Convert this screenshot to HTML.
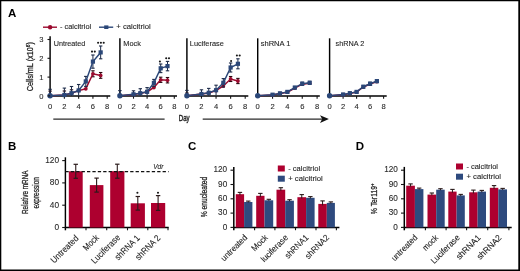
<!DOCTYPE html>
<html><head><meta charset="utf-8"><style>
html,body{margin:0;padding:0;background:#fff;}
svg{display:block;font-family:"Liberation Sans", sans-serif;will-change:transform;}
</style></head><body>
<svg width="520" height="271" viewBox="0 0 520 271">
<rect width="520" height="271" fill="#fff"/>
<path d="M0 0H520V271H0Z M1.3 1.3V269.5H518.3V1.3Z" fill="#000" fill-rule="evenodd"/>
<text x="8" y="17" font-size="11.5" font-weight="bold" fill="#000" >A</text>
<line x1="43" y1="27.2" x2="57" y2="27.2" stroke="#9b0a2e" stroke-width="1.4" />
<circle cx="50.1" cy="27.2" r="2.2" fill="#9b0a2e"/>
<text x="60.0" y="29.3" font-size="7.4" fill="#1e1e1e" stroke="#1e1e1e" stroke-width="0.1" textLength="31.2" lengthAdjust="spacingAndGlyphs" >- calcitriol</text>
<line x1="99" y1="27.2" x2="113.2" y2="27.2" stroke="#2b4778" stroke-width="1.4" />
<rect x="104.2" y="25.4" width="4.2" height="3.6" fill="#2b4778"/>
<text x="116.3" y="29.3" font-size="7.4" fill="#1e1e1e" stroke="#1e1e1e" stroke-width="0.1" textLength="34.4" lengthAdjust="spacingAndGlyphs" >+ calcitriol</text>
<line x1="50.1" y1="36.2" x2="50.1" y2="96.5" stroke="#000" stroke-width="1.45" />
<line x1="49.5" y1="95.9" x2="110.3" y2="95.9" stroke="#000" stroke-width="1.45" />
<line x1="64.375" y1="95.9" x2="64.375" y2="98.7" stroke="#141414" stroke-width="1.1" />
<text x="64.38" y="108.8" font-size="7.6" text-anchor="middle" fill="#2a2a2a" stroke="#2a2a2a" stroke-width="0.1" >2</text>
<line x1="78.65" y1="95.9" x2="78.65" y2="98.7" stroke="#141414" stroke-width="1.1" />
<text x="78.65" y="108.8" font-size="7.6" text-anchor="middle" fill="#2a2a2a" stroke="#2a2a2a" stroke-width="0.1" >4</text>
<line x1="92.92500000000001" y1="95.9" x2="92.92500000000001" y2="98.7" stroke="#141414" stroke-width="1.1" />
<text x="92.93" y="108.8" font-size="7.6" text-anchor="middle" fill="#2a2a2a" stroke="#2a2a2a" stroke-width="0.1" >6</text>
<line x1="107.2" y1="95.9" x2="107.2" y2="98.7" stroke="#141414" stroke-width="1.1" />
<text x="107.2" y="108.8" font-size="7.6" text-anchor="middle" fill="#2a2a2a" stroke="#2a2a2a" stroke-width="0.1" >8</text>
<text x="50.1" y="108.8" font-size="7.6" text-anchor="middle" fill="#2a2a2a" stroke="#2a2a2a" stroke-width="0.1" >0</text>
<text x="53.7" y="46.2" font-size="7.4" fill="#1e1e1e" stroke="#1e1e1e" stroke-width="0.1" textLength="31.7" lengthAdjust="spacingAndGlyphs" >Untreated</text>
<line x1="50.1" y1="91.1" x2="50.1" y2="95.9" stroke="#2a0810" stroke-width="1.0" />
<line x1="48.4" y1="91.1" x2="51.800000000000004" y2="91.1" stroke="#2a0810" stroke-width="1.1" />
<line x1="64.375" y1="91.0" x2="64.375" y2="95.9" stroke="#2a0810" stroke-width="1.0" />
<line x1="62.675" y1="91.0" x2="66.075" y2="91.0" stroke="#2a0810" stroke-width="1.1" />
<line x1="71.5125" y1="89.8" x2="71.5125" y2="95.9" stroke="#2a0810" stroke-width="1.0" />
<line x1="69.8125" y1="89.8" x2="73.2125" y2="89.8" stroke="#2a0810" stroke-width="1.1" />
<line x1="92.92500000000001" y1="70.8" x2="92.92500000000001" y2="76.8" stroke="#2a0810" stroke-width="1.0" />
<line x1="91.22500000000001" y1="70.8" x2="94.62500000000001" y2="70.8" stroke="#2a0810" stroke-width="1.1" />
<line x1="91.22500000000001" y1="76.8" x2="94.62500000000001" y2="76.8" stroke="#2a0810" stroke-width="1.1" />
<line x1="100.6625" y1="72.5" x2="100.6625" y2="78.30000000000001" stroke="#2a0810" stroke-width="1.0" />
<line x1="98.96249999999999" y1="72.5" x2="102.3625" y2="72.5" stroke="#2a0810" stroke-width="1.1" />
<line x1="98.96249999999999" y1="78.30000000000001" x2="102.3625" y2="78.30000000000001" stroke="#2a0810" stroke-width="1.1" />
<polyline points="50.10,95.80 64.38,95.10 71.51,93.30 78.65,90.60 85.79,88.80 92.93,73.80 100.66,75.40" fill="none" stroke="#9b0a2e" stroke-width="1.5"/>
<circle cx="50.10" cy="95.80" r="1.9" fill="#9b0a2e"/>
<circle cx="64.38" cy="95.10" r="1.9" fill="#9b0a2e"/>
<circle cx="71.51" cy="93.30" r="1.9" fill="#9b0a2e"/>
<circle cx="78.65" cy="90.60" r="1.9" fill="#9b0a2e"/>
<circle cx="85.79" cy="88.80" r="1.9" fill="#9b0a2e"/>
<circle cx="92.93" cy="73.80" r="1.9" fill="#9b0a2e"/>
<circle cx="100.66" cy="75.40" r="1.9" fill="#9b0a2e"/>
<line x1="50.1" y1="89.3" x2="50.1" y2="95.9" stroke="#1c2a48" stroke-width="1.0" />
<line x1="48.4" y1="89.3" x2="51.800000000000004" y2="89.3" stroke="#1c2a48" stroke-width="1.1" />
<line x1="64.375" y1="88.1" x2="64.375" y2="95.9" stroke="#1c2a48" stroke-width="1.0" />
<line x1="62.675" y1="88.1" x2="66.075" y2="88.1" stroke="#1c2a48" stroke-width="1.1" />
<line x1="71.5125" y1="86.5" x2="71.5125" y2="95.9" stroke="#1c2a48" stroke-width="1.0" />
<line x1="69.8125" y1="86.5" x2="73.2125" y2="86.5" stroke="#1c2a48" stroke-width="1.1" />
<line x1="78.65" y1="84.5" x2="78.65" y2="95.9" stroke="#1c2a48" stroke-width="1.0" />
<line x1="76.95" y1="84.5" x2="80.35000000000001" y2="84.5" stroke="#1c2a48" stroke-width="1.1" />
<line x1="85.7875" y1="76.4" x2="85.7875" y2="86.4" stroke="#1c2a48" stroke-width="1.0" />
<line x1="84.08749999999999" y1="76.4" x2="87.4875" y2="76.4" stroke="#1c2a48" stroke-width="1.1" />
<line x1="84.08749999999999" y1="86.4" x2="87.4875" y2="86.4" stroke="#1c2a48" stroke-width="1.1" />
<line x1="92.92500000000001" y1="55.0" x2="92.92500000000001" y2="68.2" stroke="#1c2a48" stroke-width="1.0" />
<line x1="91.22500000000001" y1="55.0" x2="94.62500000000001" y2="55.0" stroke="#1c2a48" stroke-width="1.1" />
<line x1="91.22500000000001" y1="68.2" x2="94.62500000000001" y2="68.2" stroke="#1c2a48" stroke-width="1.1" />
<line x1="100.6625" y1="46.0" x2="100.6625" y2="58.8" stroke="#1c2a48" stroke-width="1.0" />
<line x1="98.96249999999999" y1="46.0" x2="102.3625" y2="46.0" stroke="#1c2a48" stroke-width="1.1" />
<line x1="98.96249999999999" y1="58.8" x2="102.3625" y2="58.8" stroke="#1c2a48" stroke-width="1.1" />
<polyline points="50.10,95.80 64.38,95.00 71.51,93.20 78.65,90.40 85.79,81.40 92.93,61.60 100.66,52.40" fill="none" stroke="#2b4778" stroke-width="1.5"/>
<circle cx="50.10" cy="95.80" r="2.7" fill="#2b4778"/>
<rect x="62.27" y="92.90" width="4.2" height="4.2" fill="#2b4778"/>
<rect x="69.41" y="91.10" width="4.2" height="4.2" fill="#2b4778"/>
<rect x="76.55" y="88.30" width="4.2" height="4.2" fill="#2b4778"/>
<rect x="83.69" y="79.30" width="4.2" height="4.2" fill="#2b4778"/>
<rect x="90.83" y="59.50" width="4.2" height="4.2" fill="#2b4778"/>
<rect x="98.56" y="50.30" width="4.2" height="4.2" fill="#2b4778"/>
<circle cx="92.00" cy="51.6" r="1.05" fill="#151515"/>
<circle cx="94.80" cy="51.6" r="1.05" fill="#151515"/>
<circle cx="98.10" cy="42.8" r="1.05" fill="#151515"/>
<circle cx="100.90" cy="42.8" r="1.05" fill="#151515"/>
<circle cx="103.70" cy="42.8" r="1.05" fill="#151515"/>
<line x1="119.9" y1="38.3" x2="119.9" y2="96.5" stroke="#000" stroke-width="1.45" />
<line x1="119.30000000000001" y1="95.9" x2="177.0" y2="95.9" stroke="#000" stroke-width="1.45" />
<line x1="133.5" y1="95.9" x2="133.5" y2="98.7" stroke="#141414" stroke-width="1.1" />
<text x="133.5" y="108.8" font-size="7.6" text-anchor="middle" fill="#2a2a2a" stroke="#2a2a2a" stroke-width="0.1" >2</text>
<line x1="147.10000000000002" y1="95.9" x2="147.10000000000002" y2="98.7" stroke="#141414" stroke-width="1.1" />
<text x="147.1" y="108.8" font-size="7.6" text-anchor="middle" fill="#2a2a2a" stroke="#2a2a2a" stroke-width="0.1" >4</text>
<line x1="160.70000000000002" y1="95.9" x2="160.70000000000002" y2="98.7" stroke="#141414" stroke-width="1.1" />
<text x="160.7" y="108.8" font-size="7.6" text-anchor="middle" fill="#2a2a2a" stroke="#2a2a2a" stroke-width="0.1" >6</text>
<line x1="174.3" y1="95.9" x2="174.3" y2="98.7" stroke="#141414" stroke-width="1.1" />
<text x="174.3" y="108.8" font-size="7.6" text-anchor="middle" fill="#2a2a2a" stroke="#2a2a2a" stroke-width="0.1" >8</text>
<text x="119.9" y="108.8" font-size="7.6" text-anchor="middle" fill="#2a2a2a" stroke="#2a2a2a" stroke-width="0.1" >0</text>
<text x="123.3" y="46.2" font-size="7.4" fill="#1e1e1e" stroke="#1e1e1e" stroke-width="0.1" textLength="17.6" lengthAdjust="spacingAndGlyphs" >Mock</text>
<line x1="160.70000000000002" y1="77.2" x2="160.70000000000002" y2="82.39999999999999" stroke="#2a0810" stroke-width="1.0" />
<line x1="159.00000000000003" y1="77.2" x2="162.4" y2="77.2" stroke="#2a0810" stroke-width="1.1" />
<line x1="159.00000000000003" y1="82.39999999999999" x2="162.4" y2="82.39999999999999" stroke="#2a0810" stroke-width="1.1" />
<line x1="167.5" y1="77.5" x2="167.5" y2="82.9" stroke="#2a0810" stroke-width="1.0" />
<line x1="165.8" y1="77.5" x2="169.2" y2="77.5" stroke="#2a0810" stroke-width="1.1" />
<line x1="165.8" y1="82.9" x2="169.2" y2="82.9" stroke="#2a0810" stroke-width="1.1" />
<polyline points="119.90,95.80 133.50,94.40 140.30,93.30 147.10,92.00 153.90,87.50 160.70,79.80 167.50,80.20" fill="none" stroke="#9b0a2e" stroke-width="1.5"/>
<circle cx="119.90" cy="95.80" r="1.9" fill="#9b0a2e"/>
<circle cx="133.50" cy="94.40" r="1.9" fill="#9b0a2e"/>
<circle cx="140.30" cy="93.30" r="1.9" fill="#9b0a2e"/>
<circle cx="147.10" cy="92.00" r="1.9" fill="#9b0a2e"/>
<circle cx="153.90" cy="87.50" r="1.9" fill="#9b0a2e"/>
<circle cx="160.70" cy="79.80" r="1.9" fill="#9b0a2e"/>
<circle cx="167.50" cy="80.20" r="1.9" fill="#9b0a2e"/>
<line x1="119.9" y1="90.6" x2="119.9" y2="95.9" stroke="#1c2a48" stroke-width="1.0" />
<line x1="118.2" y1="90.6" x2="121.60000000000001" y2="90.6" stroke="#1c2a48" stroke-width="1.1" />
<line x1="133.5" y1="90.8" x2="133.5" y2="95.9" stroke="#1c2a48" stroke-width="1.0" />
<line x1="131.8" y1="90.8" x2="135.2" y2="90.8" stroke="#1c2a48" stroke-width="1.1" />
<line x1="140.3" y1="88.7" x2="140.3" y2="95.9" stroke="#1c2a48" stroke-width="1.0" />
<line x1="138.60000000000002" y1="88.7" x2="142.0" y2="88.7" stroke="#1c2a48" stroke-width="1.1" />
<line x1="147.10000000000002" y1="87.6" x2="147.10000000000002" y2="95.9" stroke="#1c2a48" stroke-width="1.0" />
<line x1="145.40000000000003" y1="87.6" x2="148.8" y2="87.6" stroke="#1c2a48" stroke-width="1.1" />
<line x1="153.9" y1="79.4" x2="153.9" y2="86.4" stroke="#1c2a48" stroke-width="1.0" />
<line x1="152.20000000000002" y1="79.4" x2="155.6" y2="79.4" stroke="#1c2a48" stroke-width="1.1" />
<line x1="152.20000000000002" y1="86.4" x2="155.6" y2="86.4" stroke="#1c2a48" stroke-width="1.1" />
<line x1="160.70000000000002" y1="64.0" x2="160.70000000000002" y2="72.6" stroke="#1c2a48" stroke-width="1.0" />
<line x1="159.00000000000003" y1="64.0" x2="162.4" y2="64.0" stroke="#1c2a48" stroke-width="1.1" />
<line x1="159.00000000000003" y1="72.6" x2="162.4" y2="72.6" stroke="#1c2a48" stroke-width="1.1" />
<line x1="167.5" y1="61.39999999999999" x2="167.5" y2="70.8" stroke="#1c2a48" stroke-width="1.0" />
<line x1="165.8" y1="61.39999999999999" x2="169.2" y2="61.39999999999999" stroke="#1c2a48" stroke-width="1.1" />
<line x1="165.8" y1="70.8" x2="169.2" y2="70.8" stroke="#1c2a48" stroke-width="1.1" />
<polyline points="119.90,95.80 133.50,94.30 140.30,93.20 147.10,91.80 153.90,82.90 160.70,68.30 167.50,66.10" fill="none" stroke="#2b4778" stroke-width="1.5"/>
<circle cx="119.90" cy="95.80" r="2.7" fill="#2b4778"/>
<rect x="131.40" y="92.20" width="4.2" height="4.2" fill="#2b4778"/>
<rect x="138.20" y="91.10" width="4.2" height="4.2" fill="#2b4778"/>
<rect x="145.00" y="89.70" width="4.2" height="4.2" fill="#2b4778"/>
<rect x="151.80" y="80.80" width="4.2" height="4.2" fill="#2b4778"/>
<rect x="158.60" y="66.20" width="4.2" height="4.2" fill="#2b4778"/>
<rect x="165.40" y="64.00" width="4.2" height="4.2" fill="#2b4778"/>
<circle cx="159.90" cy="61.5" r="1.05" fill="#151515"/>
<circle cx="166.20" cy="58.3" r="1.05" fill="#151515"/>
<circle cx="169.00" cy="58.3" r="1.05" fill="#151515"/>
<line x1="186.9" y1="38.3" x2="186.9" y2="96.5" stroke="#000" stroke-width="1.45" />
<line x1="186.3" y1="95.9" x2="248.3" y2="95.9" stroke="#000" stroke-width="1.45" />
<line x1="201.475" y1="95.9" x2="201.475" y2="98.7" stroke="#141414" stroke-width="1.1" />
<text x="201.47" y="108.8" font-size="7.6" text-anchor="middle" fill="#2a2a2a" stroke="#2a2a2a" stroke-width="0.1" >2</text>
<line x1="216.05" y1="95.9" x2="216.05" y2="98.7" stroke="#141414" stroke-width="1.1" />
<text x="216.05" y="108.8" font-size="7.6" text-anchor="middle" fill="#2a2a2a" stroke="#2a2a2a" stroke-width="0.1" >4</text>
<line x1="230.625" y1="95.9" x2="230.625" y2="98.7" stroke="#141414" stroke-width="1.1" />
<text x="230.62" y="108.8" font-size="7.6" text-anchor="middle" fill="#2a2a2a" stroke="#2a2a2a" stroke-width="0.1" >6</text>
<line x1="245.2" y1="95.9" x2="245.2" y2="98.7" stroke="#141414" stroke-width="1.1" />
<text x="245.2" y="108.8" font-size="7.6" text-anchor="middle" fill="#2a2a2a" stroke="#2a2a2a" stroke-width="0.1" >8</text>
<text x="186.9" y="108.8" font-size="7.6" text-anchor="middle" fill="#2a2a2a" stroke="#2a2a2a" stroke-width="0.1" >0</text>
<text x="189.8" y="46.2" font-size="7.4" fill="#1e1e1e" stroke="#1e1e1e" stroke-width="0.1" textLength="34.0" lengthAdjust="spacingAndGlyphs" >Luciferase</text>
<line x1="186.9" y1="93.0" x2="186.9" y2="95.9" stroke="#2a0810" stroke-width="1.0" />
<line x1="185.20000000000002" y1="93.0" x2="188.6" y2="93.0" stroke="#2a0810" stroke-width="1.1" />
<line x1="230.625" y1="76.5" x2="230.625" y2="81.5" stroke="#2a0810" stroke-width="1.0" />
<line x1="228.925" y1="76.5" x2="232.325" y2="76.5" stroke="#2a0810" stroke-width="1.1" />
<line x1="228.925" y1="81.5" x2="232.325" y2="81.5" stroke="#2a0810" stroke-width="1.1" />
<line x1="237.9125" y1="78.4" x2="237.9125" y2="83.6" stroke="#2a0810" stroke-width="1.0" />
<line x1="236.2125" y1="78.4" x2="239.61249999999998" y2="78.4" stroke="#2a0810" stroke-width="1.1" />
<line x1="236.2125" y1="83.6" x2="239.61249999999998" y2="83.6" stroke="#2a0810" stroke-width="1.1" />
<polyline points="186.90,95.80 201.47,94.10 208.76,92.90 216.05,90.50 223.34,86.00 230.62,79.00 237.91,81.00" fill="none" stroke="#9b0a2e" stroke-width="1.5"/>
<circle cx="186.90" cy="95.80" r="1.9" fill="#9b0a2e"/>
<circle cx="201.47" cy="94.10" r="1.9" fill="#9b0a2e"/>
<circle cx="208.76" cy="92.90" r="1.9" fill="#9b0a2e"/>
<circle cx="216.05" cy="90.50" r="1.9" fill="#9b0a2e"/>
<circle cx="223.34" cy="86.00" r="1.9" fill="#9b0a2e"/>
<circle cx="230.62" cy="79.00" r="1.9" fill="#9b0a2e"/>
<circle cx="237.91" cy="81.00" r="1.9" fill="#9b0a2e"/>
<line x1="186.9" y1="90.39999999999999" x2="186.9" y2="95.9" stroke="#1c2a48" stroke-width="1.0" />
<line x1="185.20000000000002" y1="90.39999999999999" x2="188.6" y2="90.39999999999999" stroke="#1c2a48" stroke-width="1.1" />
<line x1="201.475" y1="89.8" x2="201.475" y2="95.9" stroke="#1c2a48" stroke-width="1.0" />
<line x1="199.775" y1="89.8" x2="203.17499999999998" y2="89.8" stroke="#1c2a48" stroke-width="1.1" />
<line x1="208.7625" y1="88.39999999999999" x2="208.7625" y2="95.9" stroke="#1c2a48" stroke-width="1.0" />
<line x1="207.0625" y1="88.39999999999999" x2="210.46249999999998" y2="88.39999999999999" stroke="#1c2a48" stroke-width="1.1" />
<line x1="216.05" y1="85.2" x2="216.05" y2="95.2" stroke="#1c2a48" stroke-width="1.0" />
<line x1="214.35000000000002" y1="85.2" x2="217.75" y2="85.2" stroke="#1c2a48" stroke-width="1.1" />
<line x1="223.33749999999998" y1="78.6" x2="223.33749999999998" y2="87.0" stroke="#1c2a48" stroke-width="1.0" />
<line x1="221.6375" y1="78.6" x2="225.03749999999997" y2="78.6" stroke="#1c2a48" stroke-width="1.1" />
<line x1="221.6375" y1="87.0" x2="225.03749999999997" y2="87.0" stroke="#1c2a48" stroke-width="1.1" />
<line x1="230.625" y1="63.0" x2="230.625" y2="72.0" stroke="#1c2a48" stroke-width="1.0" />
<line x1="228.925" y1="63.0" x2="232.325" y2="63.0" stroke="#1c2a48" stroke-width="1.1" />
<line x1="228.925" y1="72.0" x2="232.325" y2="72.0" stroke="#1c2a48" stroke-width="1.1" />
<line x1="237.9125" y1="58.8" x2="237.9125" y2="68.8" stroke="#1c2a48" stroke-width="1.0" />
<line x1="236.2125" y1="58.8" x2="239.61249999999998" y2="58.8" stroke="#1c2a48" stroke-width="1.1" />
<line x1="236.2125" y1="68.8" x2="239.61249999999998" y2="68.8" stroke="#1c2a48" stroke-width="1.1" />
<polyline points="186.90,95.80 201.47,94.00 208.76,92.80 216.05,90.20 223.34,82.80 230.62,67.50 237.91,63.80" fill="none" stroke="#2b4778" stroke-width="1.5"/>
<circle cx="186.90" cy="95.80" r="2.7" fill="#2b4778"/>
<rect x="199.38" y="91.90" width="4.2" height="4.2" fill="#2b4778"/>
<rect x="206.66" y="90.70" width="4.2" height="4.2" fill="#2b4778"/>
<rect x="213.95" y="88.10" width="4.2" height="4.2" fill="#2b4778"/>
<rect x="221.24" y="80.70" width="4.2" height="4.2" fill="#2b4778"/>
<rect x="228.53" y="65.40" width="4.2" height="4.2" fill="#2b4778"/>
<rect x="235.81" y="61.70" width="4.2" height="4.2" fill="#2b4778"/>
<circle cx="231.10" cy="61.0" r="1.05" fill="#151515"/>
<circle cx="236.90" cy="55.5" r="1.05" fill="#151515"/>
<circle cx="239.70" cy="55.5" r="1.05" fill="#151515"/>
<line x1="257.7" y1="38.3" x2="257.7" y2="96.5" stroke="#000" stroke-width="1.45" />
<line x1="257.09999999999997" y1="95.9" x2="319.8" y2="95.9" stroke="#000" stroke-width="1.45" />
<line x1="272.55" y1="95.9" x2="272.55" y2="98.7" stroke="#141414" stroke-width="1.1" />
<text x="272.55" y="108.8" font-size="7.6" text-anchor="middle" fill="#2a2a2a" stroke="#2a2a2a" stroke-width="0.1" >2</text>
<line x1="287.4" y1="95.9" x2="287.4" y2="98.7" stroke="#141414" stroke-width="1.1" />
<text x="287.4" y="108.8" font-size="7.6" text-anchor="middle" fill="#2a2a2a" stroke="#2a2a2a" stroke-width="0.1" >4</text>
<line x1="302.25" y1="95.9" x2="302.25" y2="98.7" stroke="#141414" stroke-width="1.1" />
<text x="302.25" y="108.8" font-size="7.6" text-anchor="middle" fill="#2a2a2a" stroke="#2a2a2a" stroke-width="0.1" >6</text>
<line x1="317.1" y1="95.9" x2="317.1" y2="98.7" stroke="#141414" stroke-width="1.1" />
<text x="317.1" y="108.8" font-size="7.6" text-anchor="middle" fill="#2a2a2a" stroke="#2a2a2a" stroke-width="0.1" >8</text>
<text x="257.7" y="108.8" font-size="7.6" text-anchor="middle" fill="#2a2a2a" stroke="#2a2a2a" stroke-width="0.1" >0</text>
<text x="260.7" y="46.2" font-size="7.4" fill="#1e1e1e" stroke="#1e1e1e" stroke-width="0.1" textLength="29.8" lengthAdjust="spacingAndGlyphs" >shRNA 1</text>
<polyline points="257.70,95.80 272.55,94.90 279.98,93.60 287.40,92.20 294.82,88.00 302.25,84.20 309.68,83.20" fill="none" stroke="#9b0a2e" stroke-width="1.5"/>
<circle cx="257.70" cy="95.80" r="1.9" fill="#9b0a2e"/>
<circle cx="272.55" cy="94.90" r="1.9" fill="#9b0a2e"/>
<circle cx="279.98" cy="93.60" r="1.9" fill="#9b0a2e"/>
<circle cx="287.40" cy="92.20" r="1.9" fill="#9b0a2e"/>
<circle cx="294.82" cy="88.00" r="1.9" fill="#9b0a2e"/>
<circle cx="302.25" cy="84.20" r="1.9" fill="#9b0a2e"/>
<circle cx="309.68" cy="83.20" r="1.9" fill="#9b0a2e"/>
<line x1="272.55" y1="93.7" x2="272.55" y2="95.7" stroke="#1c2a48" stroke-width="1.0" />
<line x1="270.85" y1="93.7" x2="274.25" y2="93.7" stroke="#1c2a48" stroke-width="1.1" />
<line x1="279.975" y1="92.2" x2="279.975" y2="94.60000000000001" stroke="#1c2a48" stroke-width="1.0" />
<line x1="278.27500000000003" y1="92.2" x2="281.675" y2="92.2" stroke="#1c2a48" stroke-width="1.1" />
<line x1="278.27500000000003" y1="94.60000000000001" x2="281.675" y2="94.60000000000001" stroke="#1c2a48" stroke-width="1.1" />
<line x1="287.4" y1="90.7" x2="287.4" y2="93.10000000000001" stroke="#1c2a48" stroke-width="1.0" />
<line x1="285.7" y1="90.7" x2="289.09999999999997" y2="90.7" stroke="#1c2a48" stroke-width="1.1" />
<line x1="285.7" y1="93.10000000000001" x2="289.09999999999997" y2="93.10000000000001" stroke="#1c2a48" stroke-width="1.1" />
<line x1="294.825" y1="86.39999999999999" x2="294.825" y2="88.8" stroke="#1c2a48" stroke-width="1.0" />
<line x1="293.125" y1="86.39999999999999" x2="296.525" y2="86.39999999999999" stroke="#1c2a48" stroke-width="1.1" />
<line x1="293.125" y1="88.8" x2="296.525" y2="88.8" stroke="#1c2a48" stroke-width="1.1" />
<line x1="302.25" y1="82.2" x2="302.25" y2="85.2" stroke="#1c2a48" stroke-width="1.0" />
<line x1="300.55" y1="82.2" x2="303.95" y2="82.2" stroke="#1c2a48" stroke-width="1.1" />
<line x1="300.55" y1="85.2" x2="303.95" y2="85.2" stroke="#1c2a48" stroke-width="1.1" />
<line x1="309.675" y1="81.3" x2="309.675" y2="84.3" stroke="#1c2a48" stroke-width="1.0" />
<line x1="307.975" y1="81.3" x2="311.375" y2="81.3" stroke="#1c2a48" stroke-width="1.1" />
<line x1="307.975" y1="84.3" x2="311.375" y2="84.3" stroke="#1c2a48" stroke-width="1.1" />
<polyline points="257.70,95.80 272.55,94.70 279.98,93.40 287.40,91.90 294.82,87.60 302.25,83.70 309.68,82.80" fill="none" stroke="#2b4778" stroke-width="1.5"/>
<circle cx="257.70" cy="95.80" r="2.7" fill="#2b4778"/>
<rect x="270.45" y="92.60" width="4.2" height="4.2" fill="#2b4778"/>
<rect x="277.88" y="91.30" width="4.2" height="4.2" fill="#2b4778"/>
<rect x="285.30" y="89.80" width="4.2" height="4.2" fill="#2b4778"/>
<rect x="292.72" y="85.50" width="4.2" height="4.2" fill="#2b4778"/>
<rect x="300.15" y="81.60" width="4.2" height="4.2" fill="#2b4778"/>
<rect x="307.57" y="80.70" width="4.2" height="4.2" fill="#2b4778"/>
<line x1="329.6" y1="38.3" x2="329.6" y2="96.5" stroke="#000" stroke-width="1.45" />
<line x1="329.0" y1="95.9" x2="386.7" y2="95.9" stroke="#000" stroke-width="1.45" />
<line x1="343.1" y1="95.9" x2="343.1" y2="98.7" stroke="#141414" stroke-width="1.1" />
<text x="343.1" y="108.8" font-size="7.6" text-anchor="middle" fill="#2a2a2a" stroke="#2a2a2a" stroke-width="0.1" >2</text>
<line x1="356.6" y1="95.9" x2="356.6" y2="98.7" stroke="#141414" stroke-width="1.1" />
<text x="356.6" y="108.8" font-size="7.6" text-anchor="middle" fill="#2a2a2a" stroke="#2a2a2a" stroke-width="0.1" >4</text>
<line x1="370.1" y1="95.9" x2="370.1" y2="98.7" stroke="#141414" stroke-width="1.1" />
<text x="370.1" y="108.8" font-size="7.6" text-anchor="middle" fill="#2a2a2a" stroke="#2a2a2a" stroke-width="0.1" >6</text>
<line x1="383.6" y1="95.9" x2="383.6" y2="98.7" stroke="#141414" stroke-width="1.1" />
<text x="383.6" y="108.8" font-size="7.6" text-anchor="middle" fill="#2a2a2a" stroke="#2a2a2a" stroke-width="0.1" >8</text>
<text x="329.6" y="108.8" font-size="7.6" text-anchor="middle" fill="#2a2a2a" stroke="#2a2a2a" stroke-width="0.1" >0</text>
<text x="335.6" y="46.2" font-size="7.4" fill="#1e1e1e" stroke="#1e1e1e" stroke-width="0.1" textLength="28.8" lengthAdjust="spacingAndGlyphs" >shRNA 2</text>
<polyline points="329.60,95.80 343.10,94.70 349.85,93.40 356.60,92.10 363.35,87.00 370.10,84.00 376.85,81.50" fill="none" stroke="#9b0a2e" stroke-width="1.5"/>
<circle cx="329.60" cy="95.80" r="1.9" fill="#9b0a2e"/>
<circle cx="343.10" cy="94.70" r="1.9" fill="#9b0a2e"/>
<circle cx="349.85" cy="93.40" r="1.9" fill="#9b0a2e"/>
<circle cx="356.60" cy="92.10" r="1.9" fill="#9b0a2e"/>
<circle cx="363.35" cy="87.00" r="1.9" fill="#9b0a2e"/>
<circle cx="370.10" cy="84.00" r="1.9" fill="#9b0a2e"/>
<circle cx="376.85" cy="81.50" r="1.9" fill="#9b0a2e"/>
<line x1="343.1" y1="93.5" x2="343.1" y2="95.5" stroke="#1c2a48" stroke-width="1.0" />
<line x1="341.40000000000003" y1="93.5" x2="344.8" y2="93.5" stroke="#1c2a48" stroke-width="1.1" />
<line x1="349.85" y1="92.0" x2="349.85" y2="94.4" stroke="#1c2a48" stroke-width="1.0" />
<line x1="348.15000000000003" y1="92.0" x2="351.55" y2="92.0" stroke="#1c2a48" stroke-width="1.1" />
<line x1="348.15000000000003" y1="94.4" x2="351.55" y2="94.4" stroke="#1c2a48" stroke-width="1.1" />
<line x1="356.6" y1="90.7" x2="356.6" y2="93.10000000000001" stroke="#1c2a48" stroke-width="1.0" />
<line x1="354.90000000000003" y1="90.7" x2="358.3" y2="90.7" stroke="#1c2a48" stroke-width="1.1" />
<line x1="354.90000000000003" y1="93.10000000000001" x2="358.3" y2="93.10000000000001" stroke="#1c2a48" stroke-width="1.1" />
<line x1="363.35" y1="85.5" x2="363.35" y2="87.9" stroke="#1c2a48" stroke-width="1.0" />
<line x1="361.65000000000003" y1="85.5" x2="365.05" y2="85.5" stroke="#1c2a48" stroke-width="1.1" />
<line x1="361.65000000000003" y1="87.9" x2="365.05" y2="87.9" stroke="#1c2a48" stroke-width="1.1" />
<line x1="370.1" y1="82.2" x2="370.1" y2="85.2" stroke="#1c2a48" stroke-width="1.0" />
<line x1="368.40000000000003" y1="82.2" x2="371.8" y2="82.2" stroke="#1c2a48" stroke-width="1.1" />
<line x1="368.40000000000003" y1="85.2" x2="371.8" y2="85.2" stroke="#1c2a48" stroke-width="1.1" />
<line x1="376.85" y1="79.6" x2="376.85" y2="82.6" stroke="#1c2a48" stroke-width="1.0" />
<line x1="375.15000000000003" y1="79.6" x2="378.55" y2="79.6" stroke="#1c2a48" stroke-width="1.1" />
<line x1="375.15000000000003" y1="82.6" x2="378.55" y2="82.6" stroke="#1c2a48" stroke-width="1.1" />
<polyline points="329.60,95.80 343.10,94.50 349.85,93.20 356.60,91.90 363.35,86.70 370.10,83.70 376.85,81.10" fill="none" stroke="#2b4778" stroke-width="1.5"/>
<circle cx="329.60" cy="95.80" r="2.7" fill="#2b4778"/>
<rect x="341.00" y="92.40" width="4.2" height="4.2" fill="#2b4778"/>
<rect x="347.75" y="91.10" width="4.2" height="4.2" fill="#2b4778"/>
<rect x="354.50" y="89.80" width="4.2" height="4.2" fill="#2b4778"/>
<rect x="361.25" y="84.60" width="4.2" height="4.2" fill="#2b4778"/>
<rect x="368.00" y="81.60" width="4.2" height="4.2" fill="#2b4778"/>
<rect x="374.75" y="79.00" width="4.2" height="4.2" fill="#2b4778"/>
<line x1="47.5" y1="95.9" x2="50.1" y2="95.9" stroke="#141414" stroke-width="1.1" />
<text x="41.3" y="98.60000000000001" font-size="7.6" text-anchor="middle" fill="#2a2a2a" stroke="#2a2a2a" stroke-width="0.1" >0</text>
<line x1="47.5" y1="77.10000000000001" x2="50.1" y2="77.10000000000001" stroke="#141414" stroke-width="1.1" />
<text x="41.3" y="79.80000000000001" font-size="7.6" text-anchor="middle" fill="#2a2a2a" stroke="#2a2a2a" stroke-width="0.1" >1</text>
<line x1="47.5" y1="58.300000000000004" x2="50.1" y2="58.300000000000004" stroke="#141414" stroke-width="1.1" />
<text x="41.3" y="61.00000000000001" font-size="7.6" text-anchor="middle" fill="#2a2a2a" stroke="#2a2a2a" stroke-width="0.1" >2</text>
<line x1="47.5" y1="39.5" x2="50.1" y2="39.5" stroke="#141414" stroke-width="1.1" />
<text x="41.3" y="42.2" font-size="7.6" text-anchor="middle" fill="#2a2a2a" stroke="#2a2a2a" stroke-width="0.1" >3</text>
<text transform="translate(33.4 91.3) rotate(-90)" font-size="8.2" fill="#1e1e1e" stroke="#1e1e1e" stroke-width="0.28" textLength="49.2" lengthAdjust="spacingAndGlyphs">Cells/mL (x10<tspan font-size="5.5" dy="-3">6</tspan><tspan dy="3">)</tspan></text>
<line x1="53.3" y1="119.1" x2="164.6" y2="119.1" stroke="#2a2a2a" stroke-width="1.3" />
<line x1="202.7" y1="119.1" x2="322" y2="119.1" stroke="#2a2a2a" stroke-width="1.3" />
<path d="M328.9 119.1 L320.0 115.2 L322.2 119.1 L320.0 123.0 Z" fill="#111"/>
<text x="178.8" y="121.0" font-size="8.9" fill="#1e1e1e" stroke="#1e1e1e" stroke-width="0.4" textLength="10.8" lengthAdjust="spacingAndGlyphs" >Day</text>
<text x="8" y="149.8" font-size="11.5" font-weight="bold" fill="#000" >B</text>
<line x1="65.4" y1="157.3" x2="65.4" y2="230.3" stroke="#000" stroke-width="1.45" />
<line x1="64.80000000000001" y1="227.5" x2="168.7" y2="227.5" stroke="#000" stroke-width="1.45" />
<line x1="62.2" y1="227.5" x2="65.4" y2="227.5" stroke="#141414" stroke-width="1.1" />
<text x="59.0" y="229.8" font-size="8.3" text-anchor="end" fill="#2a2a2a" stroke="#2a2a2a" stroke-width="0.1" >0</text>
<line x1="62.2" y1="205.2" x2="65.4" y2="205.2" stroke="#141414" stroke-width="1.1" />
<text x="59.0" y="207.5" font-size="8.3" text-anchor="end" fill="#2a2a2a" stroke="#2a2a2a" stroke-width="0.1" >40</text>
<line x1="62.2" y1="182.9" x2="65.4" y2="182.9" stroke="#141414" stroke-width="1.1" />
<text x="59.0" y="185.20000000000002" font-size="8.3" text-anchor="end" fill="#2a2a2a" stroke="#2a2a2a" stroke-width="0.1" >80</text>
<line x1="62.2" y1="160.6" x2="65.4" y2="160.6" stroke="#141414" stroke-width="1.1" />
<text x="59.0" y="162.9" font-size="8.3" text-anchor="end" fill="#2a2a2a" stroke="#2a2a2a" stroke-width="0.1" >120</text>
<rect x="68.8" y="171.3" width="13.900000000000006" height="56.19999999999999" fill="#ad002f"/>
<rect x="89.8" y="185.1" width="13.600000000000009" height="42.400000000000006" fill="#ad002f"/>
<rect x="110.2" y="171.2" width="14.200000000000003" height="56.30000000000001" fill="#ad002f"/>
<rect x="130.7" y="203.3" width="14.200000000000017" height="24.19999999999999" fill="#ad002f"/>
<rect x="151.0" y="203.0" width="14.199999999999989" height="24.5" fill="#ad002f"/>
<line x1="75.75" y1="164.3" x2="75.75" y2="178.3" stroke="#2a1a1a" stroke-width="1.1" />
<line x1="73.55" y1="164.3" x2="77.95" y2="164.3" stroke="#2a1a1a" stroke-width="1.2" />
<line x1="73.55" y1="178.3" x2="77.95" y2="178.3" stroke="#2a1a1a" stroke-width="1.2" />
<line x1="96.6" y1="178.1" x2="96.6" y2="192.1" stroke="#2a1a1a" stroke-width="1.1" />
<line x1="94.39999999999999" y1="178.1" x2="98.8" y2="178.1" stroke="#2a1a1a" stroke-width="1.2" />
<line x1="94.39999999999999" y1="192.1" x2="98.8" y2="192.1" stroke="#2a1a1a" stroke-width="1.2" />
<line x1="117.30000000000001" y1="164.2" x2="117.30000000000001" y2="178.2" stroke="#2a1a1a" stroke-width="1.1" />
<line x1="115.10000000000001" y1="164.2" x2="119.50000000000001" y2="164.2" stroke="#2a1a1a" stroke-width="1.2" />
<line x1="115.10000000000001" y1="178.2" x2="119.50000000000001" y2="178.2" stroke="#2a1a1a" stroke-width="1.2" />
<line x1="137.8" y1="196.5" x2="137.8" y2="210.10000000000002" stroke="#2a1a1a" stroke-width="1.1" />
<line x1="135.60000000000002" y1="196.5" x2="140.0" y2="196.5" stroke="#2a1a1a" stroke-width="1.2" />
<line x1="135.60000000000002" y1="210.10000000000002" x2="140.0" y2="210.10000000000002" stroke="#2a1a1a" stroke-width="1.2" />
<line x1="158.1" y1="195.6" x2="158.1" y2="210.4" stroke="#2a1a1a" stroke-width="1.1" />
<line x1="155.9" y1="195.6" x2="160.29999999999998" y2="195.6" stroke="#2a1a1a" stroke-width="1.2" />
<line x1="155.9" y1="210.4" x2="160.29999999999998" y2="210.4" stroke="#2a1a1a" stroke-width="1.2" />
<line x1="86.0" y1="227.5" x2="86.0" y2="230.3" stroke="#141414" stroke-width="1.1" />
<line x1="106.7" y1="227.5" x2="106.7" y2="230.3" stroke="#141414" stroke-width="1.1" />
<line x1="127.5" y1="227.5" x2="127.5" y2="230.3" stroke="#141414" stroke-width="1.1" />
<line x1="147.8" y1="227.5" x2="147.8" y2="230.3" stroke="#141414" stroke-width="1.1" />
<line x1="168.0" y1="227.5" x2="168.0" y2="230.3" stroke="#141414" stroke-width="1.1" />
<line x1="65.4" y1="171.6" x2="168.6" y2="171.6" stroke="#111" stroke-width="1.3" stroke-dasharray="3.3 2.1"/>
<text x="153.2" y="169.0" font-size="7.2" font-style="italic" fill="#1e1e1e" stroke="#1e1e1e" stroke-width="0.1" textLength="10.3" lengthAdjust="spacingAndGlyphs" >Vdr</text>
<circle cx="137.40" cy="192.8" r="1.05" fill="#151515"/>
<circle cx="158.00" cy="192.8" r="1.05" fill="#151515"/>
<text transform="translate(27.6 214.0) rotate(-90)" font-size="8.9" fill="#1e1e1e" stroke="#1e1e1e" stroke-width="0.28" textLength="43.5" lengthAdjust="spacingAndGlyphs">Relative mRNA</text>
<text transform="translate(38.9 208.6) rotate(-90)" font-size="8.9" fill="#1e1e1e" stroke="#1e1e1e" stroke-width="0.28" textLength="31.6" lengthAdjust="spacingAndGlyphs">expression</text>
<text transform="translate(79.2 238.8) rotate(-45)" font-size="9.0" fill="#1e1e1e" stroke="#1e1e1e" stroke-width="0.1" text-anchor="end" textLength="35.4" lengthAdjust="spacingAndGlyphs">Untreated</text>
<text transform="translate(99.4 238.3) rotate(-45)" font-size="9.0" fill="#1e1e1e" stroke="#1e1e1e" stroke-width="0.1" text-anchor="end" textLength="18.4" lengthAdjust="spacingAndGlyphs">Mock</text>
<text transform="translate(120.8 238.1) rotate(-45)" font-size="9.0" fill="#1e1e1e" stroke="#1e1e1e" stroke-width="0.1" text-anchor="end" textLength="37.0" lengthAdjust="spacingAndGlyphs">Luciferase</text>
<text transform="translate(140.4 238.6) rotate(-45)" font-size="9.0" fill="#1e1e1e" stroke="#1e1e1e" stroke-width="0.1" text-anchor="end" textLength="31.4" lengthAdjust="spacingAndGlyphs">shRNA 1</text>
<text transform="translate(161.0 238.6) rotate(-45)" font-size="9.0" fill="#1e1e1e" stroke="#1e1e1e" stroke-width="0.1" text-anchor="end" textLength="31.4" lengthAdjust="spacingAndGlyphs">shRNA 2</text>
<text x="188" y="150" font-size="11.5" font-weight="bold" fill="#000" >C</text>
<line x1="233.8" y1="166.9" x2="233.8" y2="230.3" stroke="#000" stroke-width="1.5" />
<line x1="233.20000000000002" y1="227.4" x2="339.4" y2="227.4" stroke="#000" stroke-width="1.5" />
<line x1="230.5" y1="227.4" x2="233.8" y2="227.4" stroke="#141414" stroke-width="1.1" />
<text x="227.2" y="229.6" font-size="8.2" text-anchor="end" fill="#2a2a2a" stroke="#2a2a2a" stroke-width="0.1" >0</text>
<line x1="230.5" y1="213.1" x2="233.8" y2="213.1" stroke="#141414" stroke-width="1.1" />
<text x="227.2" y="215.29999999999998" font-size="8.2" text-anchor="end" fill="#2a2a2a" stroke="#2a2a2a" stroke-width="0.1" >30</text>
<line x1="230.5" y1="198.8" x2="233.8" y2="198.8" stroke="#141414" stroke-width="1.1" />
<text x="227.2" y="201.0" font-size="8.2" text-anchor="end" fill="#2a2a2a" stroke="#2a2a2a" stroke-width="0.1" >60</text>
<line x1="230.5" y1="184.5" x2="233.8" y2="184.5" stroke="#141414" stroke-width="1.1" />
<text x="227.2" y="186.7" font-size="8.2" text-anchor="end" fill="#2a2a2a" stroke="#2a2a2a" stroke-width="0.1" >90</text>
<line x1="230.5" y1="170.2" x2="233.8" y2="170.2" stroke="#141414" stroke-width="1.1" />
<text x="227.2" y="172.39999999999998" font-size="8.2" text-anchor="end" fill="#2a2a2a" stroke="#2a2a2a" stroke-width="0.1" >120</text>
<line x1="254.6" y1="227.4" x2="254.6" y2="230.20000000000002" stroke="#141414" stroke-width="1.1" />
<line x1="274.9" y1="227.4" x2="274.9" y2="230.20000000000002" stroke="#141414" stroke-width="1.1" />
<line x1="295.5" y1="227.4" x2="295.5" y2="230.20000000000002" stroke="#141414" stroke-width="1.1" />
<line x1="316.0" y1="227.4" x2="316.0" y2="230.20000000000002" stroke="#141414" stroke-width="1.1" />
<line x1="336.4" y1="227.4" x2="336.4" y2="230.20000000000002" stroke="#141414" stroke-width="1.1" />
<rect x="235.8" y="194.2" width="8.299999999999983" height="33.20000000000002" fill="#ad002f"/>
<rect x="244.1" y="202.0" width="8.300000000000011" height="25.400000000000006" fill="#2e4a7e"/>
<line x1="239.95" y1="192.39999999999998" x2="239.95" y2="195.1" stroke="#2a1a1a" stroke-width="1.0" />
<line x1="237.75" y1="192.39999999999998" x2="242.14999999999998" y2="192.39999999999998" stroke="#2a1a1a" stroke-width="1.1" />
<line x1="248.25" y1="201.1" x2="248.25" y2="202.45" stroke="#2a1a1a" stroke-width="1.0" />
<line x1="246.05" y1="201.1" x2="250.45" y2="201.1" stroke="#2a1a1a" stroke-width="1.1" />
<rect x="256.2" y="195.8" width="8.300000000000011" height="31.599999999999994" fill="#ad002f"/>
<rect x="264.5" y="200.3" width="8.699999999999989" height="27.099999999999994" fill="#2e4a7e"/>
<line x1="260.35" y1="193.4" x2="260.35" y2="197.0" stroke="#2a1a1a" stroke-width="1.0" />
<line x1="258.15000000000003" y1="193.4" x2="262.55" y2="193.4" stroke="#2a1a1a" stroke-width="1.1" />
<line x1="268.85" y1="199.3" x2="268.85" y2="200.8" stroke="#2a1a1a" stroke-width="1.0" />
<line x1="266.65000000000003" y1="199.3" x2="271.05" y2="199.3" stroke="#2a1a1a" stroke-width="1.1" />
<rect x="276.5" y="189.7" width="8.699999999999989" height="37.70000000000002" fill="#ad002f"/>
<rect x="285.2" y="200.7" width="8.699999999999989" height="26.700000000000017" fill="#2e4a7e"/>
<line x1="280.85" y1="187.7" x2="280.85" y2="190.7" stroke="#2a1a1a" stroke-width="1.0" />
<line x1="278.65000000000003" y1="187.7" x2="283.05" y2="187.7" stroke="#2a1a1a" stroke-width="1.1" />
<line x1="289.54999999999995" y1="199.7" x2="289.54999999999995" y2="201.2" stroke="#2a1a1a" stroke-width="1.0" />
<line x1="287.34999999999997" y1="199.7" x2="291.74999999999994" y2="199.7" stroke="#2a1a1a" stroke-width="1.1" />
<rect x="297.4" y="197.2" width="8.700000000000045" height="30.200000000000017" fill="#ad002f"/>
<rect x="306.1" y="197.8" width="8.5" height="29.599999999999994" fill="#2e4a7e"/>
<line x1="301.75" y1="194.6" x2="301.75" y2="198.5" stroke="#2a1a1a" stroke-width="1.0" />
<line x1="299.55" y1="194.6" x2="303.95" y2="194.6" stroke="#2a1a1a" stroke-width="1.1" />
<line x1="310.35" y1="196.60000000000002" x2="310.35" y2="198.4" stroke="#2a1a1a" stroke-width="1.0" />
<line x1="308.15000000000003" y1="196.60000000000002" x2="312.55" y2="196.60000000000002" stroke="#2a1a1a" stroke-width="1.1" />
<rect x="318.3" y="203.9" width="8.5" height="23.5" fill="#ad002f"/>
<rect x="326.8" y="202.9" width="8.099999999999966" height="24.5" fill="#2e4a7e"/>
<line x1="322.55" y1="200.9" x2="322.55" y2="205.4" stroke="#2a1a1a" stroke-width="1.0" />
<line x1="320.35" y1="200.9" x2="324.75" y2="200.9" stroke="#2a1a1a" stroke-width="1.1" />
<line x1="330.85" y1="201.9" x2="330.85" y2="203.4" stroke="#2a1a1a" stroke-width="1.0" />
<line x1="328.65000000000003" y1="201.9" x2="333.05" y2="201.9" stroke="#2a1a1a" stroke-width="1.1" />
<rect x="277.8" y="165.5" width="7.0" height="6.0" fill="#ad002f"/>
<rect x="277.8" y="175.7" width="7.0" height="6.0" fill="#2e4a7e"/>
<text x="288.2" y="170.9" font-size="7.4" fill="#1e1e1e" stroke="#1e1e1e" stroke-width="0.1" textLength="31.9" lengthAdjust="spacingAndGlyphs" >- calcitriol</text>
<text x="288.2" y="181.1" font-size="7.4" fill="#1e1e1e" stroke="#1e1e1e" stroke-width="0.1" textLength="34.6" lengthAdjust="spacingAndGlyphs" >+ calcitriol</text>
<text transform="translate(207.4 217.3) rotate(-90)" font-size="9.3" fill="#1e1e1e" stroke="#1e1e1e" stroke-width="0.28" textLength="40.6" lengthAdjust="spacingAndGlyphs">% enucleated</text>
<text transform="translate(247.8 238.2) rotate(-45)" font-size="8.6" fill="#1e1e1e" stroke="#1e1e1e" stroke-width="0.1" text-anchor="end" textLength="33.2" lengthAdjust="spacingAndGlyphs">untreated</text>
<text transform="translate(268.3 238.2) rotate(-45)" font-size="8.6" fill="#1e1e1e" stroke="#1e1e1e" stroke-width="0.1" text-anchor="end" textLength="19.0" lengthAdjust="spacingAndGlyphs">Mock</text>
<text transform="translate(288.6 238.2) rotate(-45)" font-size="8.6" fill="#1e1e1e" stroke="#1e1e1e" stroke-width="0.1" text-anchor="end" textLength="34.5" lengthAdjust="spacingAndGlyphs">luciferase</text>
<text transform="translate(309.0 238.2) rotate(-45)" font-size="8.6" fill="#1e1e1e" stroke="#1e1e1e" stroke-width="0.1" text-anchor="end" textLength="29.5" lengthAdjust="spacingAndGlyphs">shRNA1</text>
<text transform="translate(329.6 238.2) rotate(-45)" font-size="8.6" fill="#1e1e1e" stroke="#1e1e1e" stroke-width="0.1" text-anchor="end" textLength="30.0" lengthAdjust="spacingAndGlyphs">shRNA2</text>
<text x="355.8" y="149.6" font-size="11.5" font-weight="bold" fill="#000" >D</text>
<line x1="404.3" y1="166.9" x2="404.3" y2="230.3" stroke="#000" stroke-width="1.5" />
<line x1="403.7" y1="227.4" x2="511.7" y2="227.4" stroke="#000" stroke-width="1.5" />
<line x1="401.0" y1="227.4" x2="404.3" y2="227.4" stroke="#141414" stroke-width="1.1" />
<text x="397.8" y="229.6" font-size="8.2" text-anchor="end" fill="#2a2a2a" stroke="#2a2a2a" stroke-width="0.1" >0</text>
<line x1="401.0" y1="213.1" x2="404.3" y2="213.1" stroke="#141414" stroke-width="1.1" />
<text x="397.8" y="215.29999999999998" font-size="8.2" text-anchor="end" fill="#2a2a2a" stroke="#2a2a2a" stroke-width="0.1" >30</text>
<line x1="401.0" y1="198.8" x2="404.3" y2="198.8" stroke="#141414" stroke-width="1.1" />
<text x="397.8" y="201.0" font-size="8.2" text-anchor="end" fill="#2a2a2a" stroke="#2a2a2a" stroke-width="0.1" >60</text>
<line x1="401.0" y1="184.5" x2="404.3" y2="184.5" stroke="#141414" stroke-width="1.1" />
<text x="397.8" y="186.7" font-size="8.2" text-anchor="end" fill="#2a2a2a" stroke="#2a2a2a" stroke-width="0.1" >90</text>
<line x1="401.0" y1="170.2" x2="404.3" y2="170.2" stroke="#141414" stroke-width="1.1" />
<text x="397.8" y="172.39999999999998" font-size="8.2" text-anchor="end" fill="#2a2a2a" stroke="#2a2a2a" stroke-width="0.1" >120</text>
<line x1="425.4" y1="227.4" x2="425.4" y2="230.20000000000002" stroke="#141414" stroke-width="1.1" />
<line x1="446.1" y1="227.4" x2="446.1" y2="230.20000000000002" stroke="#141414" stroke-width="1.1" />
<line x1="466.6" y1="227.4" x2="466.6" y2="230.20000000000002" stroke="#141414" stroke-width="1.1" />
<line x1="487.7" y1="227.4" x2="487.7" y2="230.20000000000002" stroke="#141414" stroke-width="1.1" />
<line x1="508.9" y1="227.4" x2="508.9" y2="230.20000000000002" stroke="#141414" stroke-width="1.1" />
<rect x="406.2" y="185.7" width="8.699999999999989" height="41.70000000000002" fill="#ad002f"/>
<rect x="414.9" y="189.1" width="8.5" height="38.30000000000001" fill="#2e4a7e"/>
<line x1="410.54999999999995" y1="183.89999999999998" x2="410.54999999999995" y2="186.6" stroke="#2a1a1a" stroke-width="1.0" />
<line x1="408.34999999999997" y1="183.89999999999998" x2="412.74999999999994" y2="183.89999999999998" stroke="#2a1a1a" stroke-width="1.1" />
<line x1="419.15" y1="188.1" x2="419.15" y2="189.6" stroke="#2a1a1a" stroke-width="1.0" />
<line x1="416.95" y1="188.1" x2="421.34999999999997" y2="188.1" stroke="#2a1a1a" stroke-width="1.1" />
<rect x="427.5" y="194.6" width="8.699999999999989" height="32.80000000000001" fill="#ad002f"/>
<rect x="436.2" y="189.7" width="8.5" height="37.70000000000002" fill="#2e4a7e"/>
<line x1="431.85" y1="193.0" x2="431.85" y2="195.4" stroke="#2a1a1a" stroke-width="1.0" />
<line x1="429.65000000000003" y1="193.0" x2="434.05" y2="193.0" stroke="#2a1a1a" stroke-width="1.1" />
<line x1="440.45" y1="188.7" x2="440.45" y2="190.2" stroke="#2a1a1a" stroke-width="1.0" />
<line x1="438.25" y1="188.7" x2="442.65" y2="188.7" stroke="#2a1a1a" stroke-width="1.1" />
<rect x="448.3" y="191.6" width="8.300000000000011" height="35.80000000000001" fill="#ad002f"/>
<rect x="456.6" y="195.4" width="8.199999999999989" height="32.0" fill="#2e4a7e"/>
<line x1="452.45000000000005" y1="189.4" x2="452.45000000000005" y2="192.7" stroke="#2a1a1a" stroke-width="1.0" />
<line x1="450.25000000000006" y1="189.4" x2="454.65000000000003" y2="189.4" stroke="#2a1a1a" stroke-width="1.1" />
<line x1="460.70000000000005" y1="194.4" x2="460.70000000000005" y2="195.9" stroke="#2a1a1a" stroke-width="1.0" />
<line x1="458.50000000000006" y1="194.4" x2="462.90000000000003" y2="194.4" stroke="#2a1a1a" stroke-width="1.1" />
<rect x="469.2" y="192.3" width="8.400000000000034" height="35.099999999999994" fill="#ad002f"/>
<rect x="477.6" y="191.6" width="8.399999999999977" height="35.80000000000001" fill="#2e4a7e"/>
<line x1="473.4" y1="190.10000000000002" x2="473.4" y2="193.4" stroke="#2a1a1a" stroke-width="1.0" />
<line x1="471.2" y1="190.10000000000002" x2="475.59999999999997" y2="190.10000000000002" stroke="#2a1a1a" stroke-width="1.1" />
<line x1="481.8" y1="190.4" x2="481.8" y2="192.2" stroke="#2a1a1a" stroke-width="1.0" />
<line x1="479.6" y1="190.4" x2="484.0" y2="190.4" stroke="#2a1a1a" stroke-width="1.1" />
<rect x="489.8" y="187.8" width="8.5" height="39.599999999999994" fill="#ad002f"/>
<rect x="498.3" y="189.4" width="8.699999999999989" height="38.0" fill="#2e4a7e"/>
<line x1="494.05" y1="185.60000000000002" x2="494.05" y2="188.9" stroke="#2a1a1a" stroke-width="1.0" />
<line x1="491.85" y1="185.60000000000002" x2="496.25" y2="185.60000000000002" stroke="#2a1a1a" stroke-width="1.1" />
<line x1="502.65" y1="188.4" x2="502.65" y2="189.9" stroke="#2a1a1a" stroke-width="1.0" />
<line x1="500.45" y1="188.4" x2="504.84999999999997" y2="188.4" stroke="#2a1a1a" stroke-width="1.1" />
<rect x="456.0" y="163.5" width="7.0" height="6.0" fill="#ad002f"/>
<rect x="456.0" y="173.7" width="7.0" height="6.0" fill="#2e4a7e"/>
<text x="466.4" y="168.9" font-size="7.4" fill="#1e1e1e" stroke="#1e1e1e" stroke-width="0.1" textLength="31.6" lengthAdjust="spacingAndGlyphs" >- calcitriol</text>
<text x="466.4" y="179.1" font-size="7.4" fill="#1e1e1e" stroke="#1e1e1e" stroke-width="0.1" textLength="34.6" lengthAdjust="spacingAndGlyphs" >+ calcitriol</text>
<text transform="translate(377.3 214.2) rotate(-90)" font-size="9.3" fill="#1e1e1e" stroke="#1e1e1e" stroke-width="0.28" textLength="30.8" lengthAdjust="spacingAndGlyphs">% Ter119<tspan font-size="6" dy="-3">+</tspan></text>
<text transform="translate(418.0 238.2) rotate(-45)" font-size="8.6" fill="#1e1e1e" stroke="#1e1e1e" stroke-width="0.1" text-anchor="end" textLength="33.0" lengthAdjust="spacingAndGlyphs">untreated</text>
<text transform="translate(438.8 238.2) rotate(-45)" font-size="8.6" fill="#1e1e1e" stroke="#1e1e1e" stroke-width="0.1" text-anchor="end" textLength="18.5" lengthAdjust="spacingAndGlyphs">mock</text>
<text transform="translate(460.3 238.2) rotate(-45)" font-size="8.6" fill="#1e1e1e" stroke="#1e1e1e" stroke-width="0.1" text-anchor="end" textLength="37.0" lengthAdjust="spacingAndGlyphs">Luciferase</text>
<text transform="translate(481.3 238.2) rotate(-45)" font-size="8.6" fill="#1e1e1e" stroke="#1e1e1e" stroke-width="0.1" text-anchor="end" textLength="31.0" lengthAdjust="spacingAndGlyphs">shRNA1</text>
<text transform="translate(502.1 238.2) rotate(-45)" font-size="8.6" fill="#1e1e1e" stroke="#1e1e1e" stroke-width="0.1" text-anchor="end" textLength="31.0" lengthAdjust="spacingAndGlyphs">shRNA2</text>
</svg>
</body></html>
